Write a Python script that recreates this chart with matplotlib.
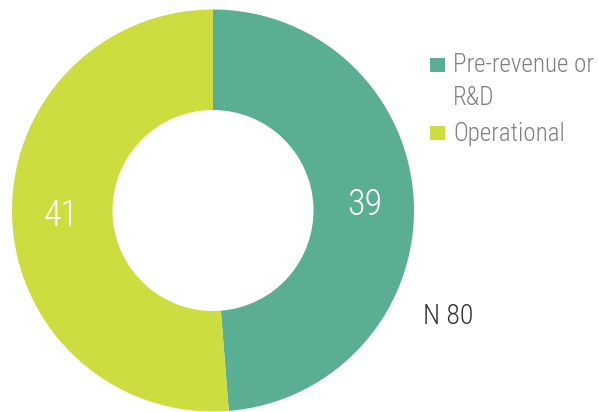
import matplotlib.pyplot as plt
from matplotlib.patches import Rectangle

# donut: company stage
categories = ['Pre-revenue or\nR&D', 'Operational']
counts = [39, 41]
colors = ['#5aae92', '#cddc3f']
n_total = 80

plt.rcParams['font.family'] = ['Roboto Condensed', 'Roboto', 'DejaVu Sans']
plt.rcParams['font.weight'] = 300

W, H = 598, 412
fig = plt.figure(figsize=(W / 100, H / 100), dpi=100)
ax = fig.add_axes([12 / W, 0.5 / H, 402 / W, 402 / H])

wedges, _, autotexts = ax.pie(
    counts,
    colors=colors,
    startangle=90,
    counterclock=False,
    radius=1.0,
    wedgeprops=dict(width=0.5, linewidth=0),
    autopct=lambda p: '{:.0f}'.format(p * sum(counts) / 100),
    pctdistance=0.755,
)
for t in autotexts:
    t.set_color('white')
    t.set_fontsize(26)
ax.set_xlim(-1, 1)
ax.set_ylim(-1, 1)
ax.set_aspect('equal')
ax.axis('off')

# legend drawn by hand so the square sits on the first line of each label
# (va='baseline' lines up the LAST line of a multi-line text)
last_baselines = [105, 141]
pitch = 32
for label, color, base in zip(categories, colors, last_baselines):
    first = base - pitch * label.count('\n')
    fig.patches.append(Rectangle(
        (430 / W, 1 - (first - 1) / H), 15 / W, 14 / H,
        transform=fig.transFigure, facecolor=color, edgecolor='none'))
    fig.text(453 / W, 1 - base / H, label, fontsize=18, color='#808080',
             va='baseline', ha='left', linespacing=1.49)

fig.text(423 / W, 1 - 316 / H, 'N {}'.format(n_total),
         fontsize=20, color='#333333', va='center', ha='left')

fig.savefig('out.png', dpi=100)
